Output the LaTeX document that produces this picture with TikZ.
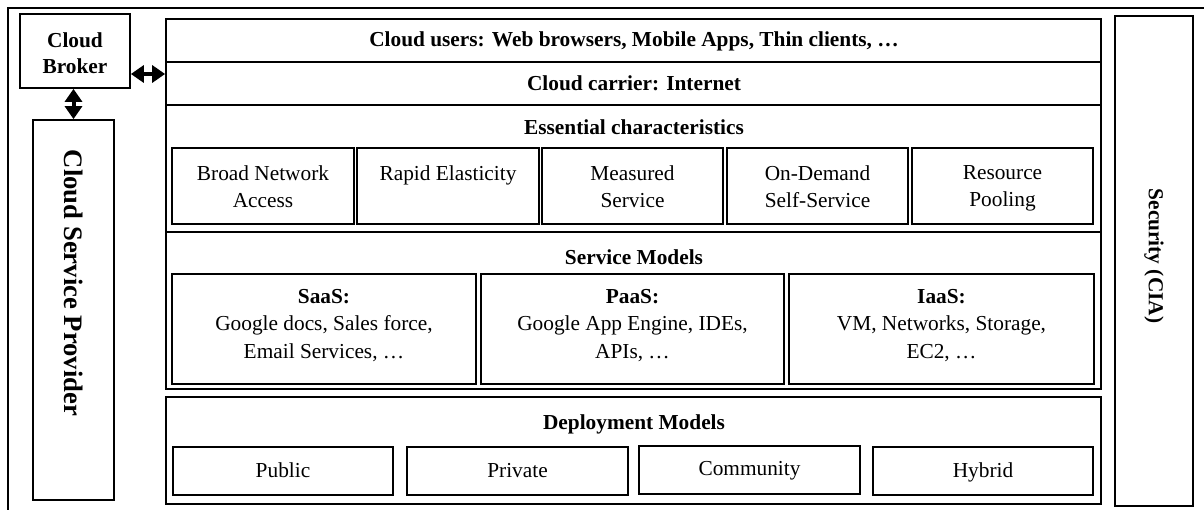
\documentclass[tikz,border=0pt]{standalone}
\usepackage{fontspec}
\setmainfont{Liberation Serif}
\usetikzlibrary{arrows.meta,fit}
\begin{document}
\begin{tikzpicture}[x=0.75pt,y=-0.75pt,
  box/.style={draw, line width=1.3pt, inner sep=0pt},
  lbl/.style={font=\fontsize{16}{20.6}\selectfont, align=center, inner sep=0pt},
  head/.style={font=\fontsize{16}{19.5}\selectfont\bfseries, inner sep=0pt},
  biarrow/.style={{Triangle[width=12.75pt,length=9.75pt]}-{Triangle[width=12.75pt,length=9.75pt]}, line width=3pt}
]
\useasboundingbox (0,0) rectangle (1204,510);
% outer frame (top and left edges)
\draw[line width=1.5pt] (1204,8) -- (8,8) -- (8,510);

% broker and provider on the left
\node[box, fit={(20,14) (130,88)}] (broker) {};
\node[head, align=center] (brokertext) at (75,53) {Cloud\\Broker};
\node[box, fit={(33,120) (114,500)}] (csp) {};
\node[head, font=\fontsize{20}{24}\selectfont\bfseries, rotate=-90] (csptext) at (73.5,283) {Cloud Service Provider};

% security column on the right
\node[box, fit={(1115,16) (1193,506)}] (sec) {};
\node[head, rotate=-90] (sectext) at (1154,256) {Security (CIA)};

% stacked layers
\node[box, fit={(166,19) (1101,62)}] (users) {};
\node[head, anchor=base] (userstext) at (634,47) {Cloud users: Web browsers, Mobile Apps, Thin clients, \dots};
\node[box, fit={(166,62) (1101,105)}] (carrier) {};
\node[head, anchor=base] (carriertext) at (634,91) {Cloud carrier: Internet};

% essential characteristics
\node[box, fit={(166,105) (1101,232)}] (ess) {};
\node[head, anchor=base] (esstext) at (634,135) {Essential characteristics};
\node[box, fit={(172,148) (354,224)}] (c1) {};
\node[box, fit={(357,148) (539,224)}] (c2) {};
\node[box, fit={(542,148) (723,224)}] (c3) {};
\node[box, fit={(727,148) (908,224)}] (c4) {};
\node[box, fit={(912,148) (1093,224)}] (c5) {};
\node[lbl, anchor=north] (c1t) at (c1.north |- 0,165) {Broad Network\\Access};
\node[lbl, anchor=north] (c2t) at (c2.north |- 0,165) {Rapid Elasticity};
\node[lbl, anchor=north] (c3t) at (c3.north |- 0,165) {Measured\\Service};
\node[lbl, anchor=north] (c4t) at (c4.north |- 0,165) {On-Demand\\Self-Service};
\node[lbl, anchor=north] (c5t) at (c5.north |- 0,165) {Resource\\Pooling};

% service models
\node[box, fit={(166,232) (1101,389)}] (svc) {};
\node[head, anchor=base] (svctext) at (634,264) {Service Models};
\node[box, fit={(172,274) (476,384)}] (saas) {};
\node[box, fit={(481,274) (784,384)}] (paas) {};
\node[box, fit={(789,274) (1094,384)}] (iaas) {};
\node[lbl, anchor=north] (saast) at (saas.north |- 0,289) {\textbf{SaaS:}\\Google docs, Sales force,\\Email Services, \dots};
\node[lbl, anchor=north] (paast) at (paas.north |- 0,289) {\textbf{PaaS:}\\Google App Engine, IDEs,\\APIs, \dots};
\node[lbl, anchor=north] (iaast) at (iaas.north |- 0,289) {\textbf{IaaS:}\\VM, Networks, Storage,\\EC2, \dots};

% deployment models
\node[box, fit={(166,397) (1101,504)}] (dep) {};
\node[head, anchor=base] (deptext) at (634,429) {Deployment Models};
\node[box, fit={(173,447) (393,495)}] (pub) {};
\node[box, fit={(407,447) (628,495)}] (priv) {};
\node[box, fit={(639,446) (860,494)}] (comm) {};
\node[box, fit={(873,447) (1093,495)}] (hyb) {};
\node[lbl, anchor=base] (pubt) at (pub.center |- 0,477) {Public};
\node[lbl, anchor=base] (privt) at (priv.center |- 0,477) {Private};
\node[lbl, anchor=base] (commt) at (comm.center |- 0,475) {Community};
\node[lbl, anchor=base] (hybt) at (hyb.center |- 0,477) {Hybrid};

% broker links
\coordinate (ba) at (0,74);
\draw[biarrow] (broker.east |- ba) -- (carrier.west |- ba);
\draw[biarrow] (broker.south -| csp.north) -- (csp.north);
\end{tikzpicture}
\end{document}
